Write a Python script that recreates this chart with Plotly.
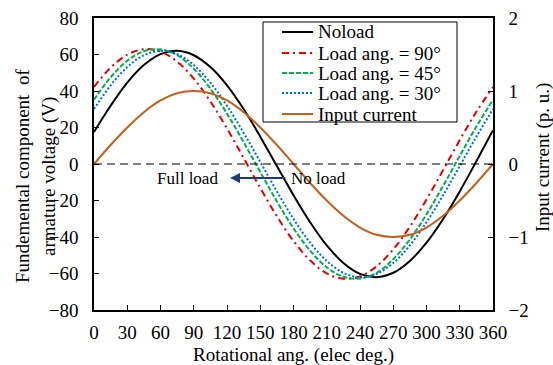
import plotly.graph_objects as go

# ---- data ----
angle = [0, 15, 30, 45, 60, 75, 90, 105, 120, 135, 150, 165, 180,
         195, 210, 225, 240, 255, 270, 285, 300, 315, 330, 345, 360]
noload = [17.6, 31.9, 44.6, 54.2, 60.2, 62.0, 59.6, 53.1, 43.1, 30.1, 15.0, -1.1, -17.1,
          -31.9, -44.6, -54.2, -60.2, -62.0, -59.6, -53.1, -43.1, -30.1, -15.0, 1.5, 18.5]
load90 = [42.2, 52.8, 59.9, 62.9, 61.6, 56.1, 46.8, 34.3, 19.5, 3.3, -13.1, -28.6, -42.2,
          -52.8, -59.9, -62.9, -61.6, -56.1, -46.8, -34.3, -19.5, -3.3, 13.1, 28.6, 42.2]
load45 = [35.2, 47.5, 56.6, 61.8, 62.8, 59.6, 52.2, 41.3, 27.6, 12.0, -4.4, -20.5, -35.2,
          -47.5, -56.6, -61.8, -62.8, -59.6, -52.2, -41.3, -27.6, -12.0, 4.4, 20.5, 35.2]
load30 = [30.1, 43.1, 53.1, 59.6, 62.0, 60.2, 54.2, 44.6, 31.9, 17.1, 1.1, -15.0, -30.1,
          -43.1, -53.1, -59.6, -62.0, -60.2, -54.2, -44.6, -31.9, -17.1, -1.1, 15.0, 30.1]
current = [0.0, 0.26, 0.5, 0.71, 0.87, 0.97, 1.0, 0.97, 0.87, 0.71, 0.5, 0.26, 0.0,
           -0.26, -0.5, -0.71, -0.87, -0.97, -1.0, -0.97, -0.87, -0.71, -0.5, -0.26, 0.0]

series_names = ["Noload", "Load ang. = 90°", "Load ang. = 45°", "Load ang. = 30°", "Input current"]
x_ticks = list(range(0, 361, 30))
y_ticks = list(range(-80, 81, 20))
y2_ticks = [-2, -1, 0, 1, 2]

FONT = "Liberation Serif"
W, H = 553, 365
L, R, T, B = 94, 493, 18, 310  # plot area in px

def px(xp):
    return (xp - L) / (R - L)

def py(yp):
    return (B - yp) / (B - T)

styles = [
    dict(color="black", width=2, dash="solid"),
    dict(color="#e00000", width=2, dash="7px,4px,2px,4px"),
    dict(color="#00b050", width=2, dash="5px,2px"),
    dict(color="#0070c0", width=2, dash="2px,2px"),
    dict(color="#c0601e", width=2, dash="solid"),
]

fig = go.Figure()
ys = [noload, load90, load45, load30]
for i, yv in enumerate(ys):
    fig.add_trace(go.Scatter(x=angle, y=yv, mode="lines", name=series_names[i],
                             line=dict(shape="spline", **styles[i]), showlegend=False))
fig.add_trace(go.Scatter(x=angle, y=current, mode="lines", name=series_names[4], yaxis="y2",
                         line=dict(shape="spline", **styles[4]), showlegend=False))

axis_common = dict(showline=True, linecolor="black", linewidth=1.5, ticks="inside",
                   ticklen=5, tickwidth=1.2, tickcolor="black", showgrid=False, zeroline=False,
                   automargin=False, tickfont=dict(family=FONT, size=19, color="black"))

fig.update_layout(
    width=W, height=H,
    margin=dict(l=L, r=W - R, t=T, b=H - B, autoexpand=False),
    paper_bgcolor="white", plot_bgcolor="white",
    font=dict(family=FONT, size=19, color="black"),
    xaxis=dict(range=[0, 360], tickvals=x_ticks, mirror=True, ticklabelstandoff=4, **axis_common),
    yaxis=dict(range=[-80, 80], tickvals=y_ticks, mirror=True, ticklabelstandoff=10, **axis_common),
    yaxis2=dict(range=[-2, 2], tickvals=y2_ticks, overlaying="y", side="right",
                ticklabelstandoff=10, **axis_common),
    showlegend=False,
)

# zero reference line
fig.add_shape(type="line", xref="paper", yref="y", x0=0, x1=1, y0=0, y1=0,
              line=dict(color="black", width=1.2, dash="8px,5px"))

# axis titles
ttl = dict(xref="paper", yref="paper", textangle=-90, showarrow=False,
           xanchor="center", yanchor="middle", font=dict(family=FONT, size=19, color="black"))
fig.add_annotation(text="Fundemental component  of", x=px(23), y=py(176), **ttl)
fig.add_annotation(text="armature voltage (V)", x=px(49), y=py(177), **ttl)
fig.add_annotation(text="Input current (p. u.)", x=px(543), y=py(158), **ttl)
fig.add_annotation(text="Rotational ang. (elec deg.)", x=px(293), y=py(355), xref="paper", yref="paper",
                   showarrow=False, xanchor="center", yanchor="middle",
                   font=dict(family=FONT, size=19, color="black"))

# arrow annotation
ya = -7.7
fig.add_annotation(x=122.7, y=ya, ax=174.0, ay=ya, xref="x", yref="y", axref="x", ayref="y",
                   text="", showarrow=True, arrowhead=2, arrowsize=1, arrowwidth=2,
                   arrowcolor="#1f3a6e")
fig.add_annotation(text="No load", x=175.5, y=ya, xref="x", yref="y", xanchor="left", yanchor="middle",
                   showarrow=False, font=dict(family=FONT, size=17, color="black"))
fig.add_annotation(text="Full load", x=114.0, y=ya, xref="x", yref="y", xanchor="right", yanchor="middle",
                   showarrow=False, font=dict(family=FONT, size=17, color="black"))

# legend box (drawn)
fig.add_shape(type="rect", xref="paper", yref="paper", x0=px(263), x1=px(457), y0=py(122), y1=py(22),
              line=dict(color="black", width=1), fillcolor="white", layer="above")
rows = [32, 53, 73, 93, 114]
for i, ry in enumerate(rows):
    fig.add_shape(type="line", xref="paper", yref="paper", x0=px(282), x1=px(313), y0=py(ry), y1=py(ry),
                  line=styles[i], layer="above")
    fig.add_annotation(text=series_names[i], xref="paper", yref="paper", x=px(316), y=py(ry),
                       xanchor="left", yanchor="middle", showarrow=False,
                       font=dict(family=FONT, size=19, color="black"))

fig.write_html("out.html")
